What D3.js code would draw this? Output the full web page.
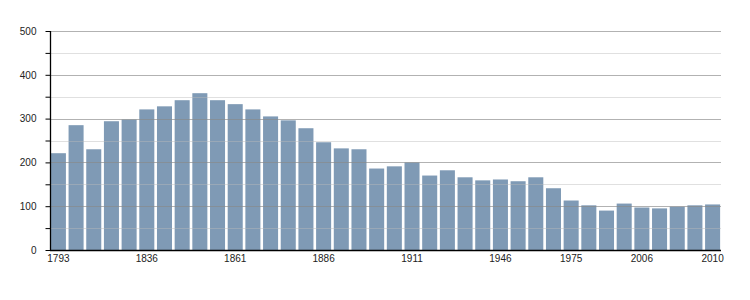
<!DOCTYPE html>
<html>
<head>
<meta charset="utf-8">
<script src="https://d3js.org/d3.v7.min.js"></script>
<style>
  body { margin: 0; background: #fff; }
  text { font-family: "Liberation Sans", Arial, sans-serif; }
</style>
</head>
<body>
<script>
// population per census year
var years = [1793, 1800, 1806, 1821, 1831, 1836, 1841, 1846, 1851, 1856,
             1861, 1866, 1872, 1876, 1881, 1886, 1891, 1896, 1901, 1906,
             1911, 1921, 1926, 1931, 1936, 1946, 1954, 1962, 1968, 1975,
             1982, 1990, 1999, 2006, 2007, 2008, 2009, 2010];
var population = [221, 285, 230, 294, 298, 321, 328, 342, 358, 342,
                  333, 321, 305, 296, 278, 246, 232, 230, 186, 191,
                  200, 170, 182, 166, 159, 161, 157, 166, 141, 113,
                  102, 90, 106, 97, 95, 99, 102, 104];
var yearTicks = [1793, 1836, 1861, 1886, 1911, 1946, 1975, 2006, 2010];
var yTicks = [0, 100, 200, 300, 400, 500];
var yMinor = [50, 150, 250, 350, 450];

var width = 750, height = 300;
var margin = {top: 31, right: 29, bottom: 50, left: 50};

var svg = d3.select("body").append("svg")
  .attr("width", width).attr("height", height);

//scales
var x = d3.scaleBand().domain(years)
  .range([margin.left, width - margin.right])
  .paddingInner(0.15).paddingOuter(0.05);
var y = d3.scaleLinear().domain([0, 500])
  .range([height - margin.bottom, margin.top]);

//bars
svg.append("g").selectAll("rect")
  .data(years)
  .join("rect")
  .attr("x", function(d) { return x(d); })
  .attr("y", function(d, i) { return y(population[i]); })
  .attr("width", x.bandwidth())
  .attr("height", function(d, i) { return y(0) - y(population[i]); })
  .attr("fill", "#7f9ab5");

//gridlines drawn over the bars
svg.append("g").selectAll("line")
  .data(yMinor)
  .join("line")
  .attr("x1", margin.left).attr("x2", width - margin.right)
  .attr("y1", function(d) { return Math.round(y(d)) + 0.5; })
  .attr("y2", function(d) { return Math.round(y(d)) + 0.5; })
  .attr("stroke", "#bbb").attr("stroke-opacity", 0.45);
svg.append("g").selectAll("line")
  .data(yTicks.slice(1))
  .join("line")
  .attr("x1", margin.left).attr("x2", width - margin.right)
  .attr("y1", function(d) { return Math.round(y(d)) + 0.5; })
  .attr("y2", function(d) { return Math.round(y(d)) + 0.5; })
  .attr("stroke", "#888").attr("stroke-opacity", 0.65);

//y axis
var yAxis = svg.append("g")
  .attr("transform", "translate(" + (margin.left + 0.5) + ",0)")
  .call(d3.axisLeft(y).tickValues(yTicks.concat(yMinor)).tickSize(5).tickPadding(9)
    .tickFormat(function(d) { return d % 100 === 0 ? d : ""; }));
yAxis.select(".domain").attr("stroke", "#000").attr("stroke-width", 1.3)
  .attr("d", "M0," + y(500) + "V" + (y(0) + 1));
yAxis.selectAll(".tick line").attr("stroke", "#000");
yAxis.selectAll("text").attr("font-size", 10).attr("fill", "#222")
  .attr("font-family", "Liberation Sans, Arial, sans-serif");

//x axis
var xAxis = svg.append("g")
  .attr("transform", "translate(0," + (y(0) + 0.5) + ")")
  .call(d3.axisBottom(x).tickValues(yearTicks).tickSize(0).tickPadding(4));
xAxis.select(".domain").attr("stroke", "#000").attr("stroke-width", 1.3)
  .attr("d", "M" + margin.left + ",0H" + (width - margin.right));
xAxis.selectAll("text").attr("font-size", 10).attr("fill", "#222")
  .attr("font-family", "Liberation Sans, Arial, sans-serif");
</script>
</body>
</html>
